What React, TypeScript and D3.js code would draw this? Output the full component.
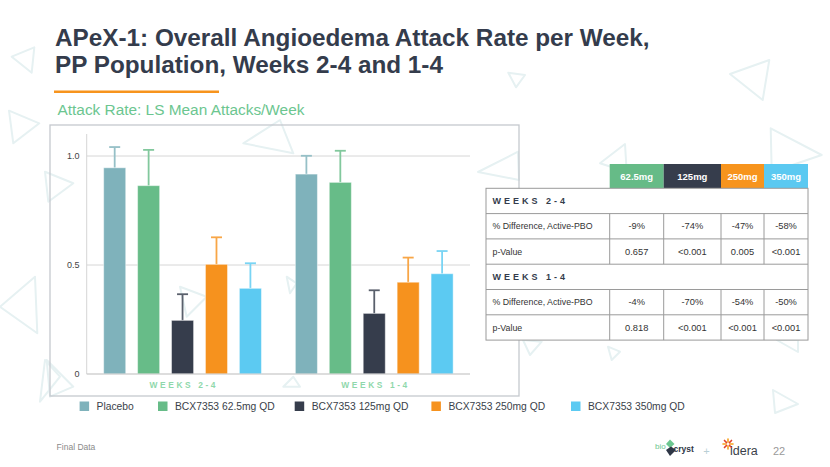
import React from "react";
import * as d3 from "d3";

// ---------- data ----------
const groups = ["WEEKS 2-4", "WEEKS 1-4"];
const series = [
  "Placebo",
  "BCX7353 62.5mg QD",
  "BCX7353 125mg QD",
  "BCX7353 250mg QD",
  "BCX7353 350mg QD",
];
const seriesColors = ["#7fb2bb", "#67bc88", "#363d4c", "#f6921e", "#5ccaf2"];
const means24 = [0.946, 0.864, 0.246, 0.503, 0.393];
const upper24 = [1.041, 1.028, 0.366, 0.627, 0.508];
const means14 = [0.917, 0.879, 0.278, 0.421, 0.46];
const upper14 = [1.001, 1.024, 0.384, 0.534, 0.564];
const yTicks = [0, 0.5, 1.0];
const yTickLabels = ["0", "0.5", "1.0"];

const doses = ["62.5mg", "125mg", "250mg", "350mg"];
const doseColors = ["#66bb87", "#363d4c", "#f7941d", "#5bc9f1"];
const pctDiff24 = ["-9%", "-74%", "-47%", "-58%"];
const pval24 = ["0.657", "<0.001", "0.005", "<0.001"];
const pctDiff14 = ["-4%", "-70%", "-54%", "-50%"];
const pval14 = ["0.818", "<0.001", "<0.001", "<0.001"];

// ---------- layout ----------
const W = 830;
const H = 467;
const FONT = "'Liberation Sans', Arial, Helvetica, sans-serif";
const plot = { left: 86.7, right: 470, top: 134, bottom: 374 };

const triangles: [number, number][][] = [
  [[11.7, 56.7], [34.3, 47.3], [31.7, 72.7]],
  [[9, 110.7], [39.3, 123.3], [13.3, 143.3]],
  [[45, 171.7], [73.3, 183.3], [48.3, 201.7]],
  [[0, 306.7], [35, 276.7], [37.3, 333.3]],
  [[46.7, 360], [73.3, 386.7], [50, 396.7]],
  [[45, 360], [60, 376.7], [40, 401.7]],
  [[508.3, 72.7], [525, 75], [516, 87.3]],
  [[730, 74], [769.3, 60], [762.7, 100]],
  [[770.7, 128.3], [821.7, 155], [771.7, 172]],
  [[600, 163.3], [625, 144], [626.7, 172]],
  [[478, 172], [518, 151.7], [519, 180]],
  [[523, 340], [541.7, 341.7], [530, 355]],
  [[608, 346.7], [620, 351.7], [611.7, 360]],
  [[773, 390], [798, 404], [775, 413]],
  [[776.7, 340], [798, 340], [798, 352]],
  [[243.3, 143.3], [280, 120], [293.3, 153.3]],
  [[180, 286.7], [206.7, 296.7], [186.7, 316.7]],
  [[286.7, 276.7], [296.7, 283.3], [290, 293.3]],
  [[283.3, 386.7], [293.3, 376.7], [300, 386.7]],
];

export default function App() {
  const y = d3.scaleLinear().domain([0, 1]).range([plot.bottom, plot.bottom - 218]);
  const x0 = d3.scaleBand<string>().domain(groups).range([plot.left, plot.left + 383.4]).padding(0);
  const x1 = d3
    .scaleBand<string>()
    .domain(series)
    .range([0, x0.bandwidth()])
    .paddingInner(0.35)
    .paddingOuter(0.5);

  const groupData = [
    { g: groups[0], means: means24, upper: upper24 },
    { g: groups[1], means: means14, upper: upper14 },
  ];

  // table geometry
  const colX = [486, 609.7, 663.7, 721, 764, 808];
  const headTop = 164;
  const tTop = 188.3;
  const rowH = 25.3;
  const tableRows: { kind: "section" | "data"; label: string; vals?: string[] }[] = [
    { kind: "section", label: "WEEKS 2-4" },
    { kind: "data", label: "% Difference, Active-PBO", vals: pctDiff24 },
    { kind: "data", label: "p-Value", vals: pval24 },
    { kind: "section", label: "WEEKS 1-4" },
    { kind: "data", label: "% Difference, Active-PBO", vals: pctDiff14 },
    { kind: "data", label: "p-Value", vals: pval14 },
  ];
  const tBottom = tTop + rowH * tableRows.length;

  const legendX = [79.6, 158, 294.7, 431.4, 571];

  const spokes = d3.range(8).map((k) => (k * Math.PI) / 4);

  return (
    <svg
      width={W}
      height={H}
      style={{ position: "absolute", left: 0, top: 0, background: "#fff" }}
      fontFamily={FONT}
    >
      <rect width={W} height={H} fill="#fff" />
      {/* decorative triangles */}
      {triangles.map((t, i) => (
        <polygon
          key={i}
          points={t.map((p) => p.join(",")).join(" ")}
          fill="none"
          stroke="#e6f1f2"
          strokeWidth={2}
          strokeLinejoin="round"
        />
      ))}

      {/* title */}
      <text x={55} y={46} fontSize={24.3} fontWeight="bold" fill="#343c4c">
        APeX-1: Overall Angioedema Attack Rate per Week,
      </text>
      <text x={55} y={73} fontSize={24.3} fontWeight="bold" fill="#343c4c">
        PP Population, Weeks 2-4 and 1-4
      </text>
      <rect x={54} y={90.5} width={165} height={2.5} fill="#f7941d" />
      <text x={57.5} y={115} fontSize={15.4} fill="#6cc690">
        Attack Rate: LS Mean Attacks/Week
      </text>

      {/* chart frame */}
      <rect x={50} y={125} width={469} height={271} fill="none" stroke="#c5c9ce" strokeWidth={1.3} />

      {/* gridlines */}
      {yTicks.map((t, i) => (
        <g key={i}>
          <line x1={plot.left} x2={plot.right} y1={y(t)} y2={y(t)} stroke="#d6d6d6" strokeWidth={1} />
          <text x={79.5} y={y(t) + 3} fontSize={9} fill="#444" textAnchor="end">
            {yTickLabels[i]}
          </text>
        </g>
      ))}
      <line x1={plot.left} x2={plot.left} y1={plot.top} y2={plot.bottom} stroke="#d6d6d6" strokeWidth={1} />

      {/* bars */}
      {groupData.map((gd) => (
        <g key={gd.g} transform={`translate(${x0(gd.g)},0)`}>
          {series.map((s, i) => {
            const bx = x1(s)!;
            const bw = x1.bandwidth();
            const errC = d3.interpolateRgb(seriesColors[i], "#ffffff")(0.18);
            const cx = bx + bw / 2;
            return (
              <g key={s}>
                <line x1={cx} x2={cx} y1={y(gd.means[i])} y2={y(gd.upper[i])} stroke={errC} strokeWidth={1.8} />
                <line x1={cx - 5.5} x2={cx + 5.5} y1={y(gd.upper[i])} y2={y(gd.upper[i])} stroke={errC} strokeWidth={1.8} />
                <rect
                  x={bx}
                  y={y(gd.means[i])}
                  width={bw}
                  height={y(0) - y(gd.means[i])}
                  fill={seriesColors[i]}
                  stroke="rgba(255,255,255,0.45)"
                  strokeWidth={1}
                />
              </g>
            );
          })}
          <text
            x={x0.bandwidth() / 2 + 1.3}
            y={388}
            fontSize={8.4}
            fontWeight="bold"
            fill="#8fd8ab"
            textAnchor="middle"
            style={{ letterSpacing: "2.6px" }}
          >
            {gd.g}
          </text>
        </g>
      ))}
      <line x1={plot.left} x2={plot.right} y1={y(0)} y2={y(0)} stroke="#cfcfcf" strokeWidth={1} />

      {/* table */}
      {doses.map((d, i) => (
        <g key={d}>
          <rect x={colX[i + 1]} y={headTop} width={colX[i + 2] - colX[i + 1]} height={tTop - headTop} fill={doseColors[i]} />
          <text
            x={(colX[i + 1] + colX[i + 2]) / 2}
            y={(headTop + tTop) / 2 + 3.4}
            fontSize={9.5}
            fontWeight="bold"
            fill="#fff"
            textAnchor="middle"
          >
            {d}
          </text>
        </g>
      ))}
      <rect x={colX[0]} y={tTop} width={colX[5] - colX[0]} height={tBottom - tTop} fill="#fff" stroke="#9a9a9a" strokeWidth={1} />
      {tableRows.map((r, ri) => {
        const ry = tTop + ri * rowH;
        return (
          <g key={ri}>
            {ri > 0 && <line x1={colX[0]} x2={colX[5]} y1={ry} y2={ry} stroke="#9a9a9a" strokeWidth={1} />}
            {r.kind === "section" ? (
              <text x={492.5} y={ry + rowH / 2 + 3.2} fontSize={9} fontWeight="bold" fill="#343c4c" style={{ letterSpacing: "3px" }}>
                {r.label}
              </text>
            ) : (
              <g>
                <text x={492.5} y={ry + rowH / 2 + 3.1} fontSize={8.8} fill="#333">
                  {r.label}
                </text>
                {r.vals!.map((v, vi) => (
                  <g key={vi}>
                    <line x1={colX[vi + 1]} x2={colX[vi + 1]} y1={ry} y2={ry + rowH} stroke="#9a9a9a" strokeWidth={1} />
                    <text
                      x={(colX[vi + 1] + colX[vi + 2]) / 2}
                      y={ry + rowH / 2 + 3.2}
                      fontSize={9.3}
                      fill="#333"
                      textAnchor="middle"
                    >
                      {v}
                    </text>
                  </g>
                ))}
              </g>
            )}
          </g>
        );
      })}

      {/* legend */}
      {series.map((s, i) => (
        <g key={s}>
          <rect x={legendX[i]} y={401.5} width={9.5} height={9.5} fill={seriesColors[i]} />
          <text x={legendX[i] + 17} y={410} fontSize={10.3} fill="#3a3f4a">
            {s}
          </text>
        </g>
      ))}

      {/* footer */}
      <text x={56.6} y={450} fontSize={8.5} fill="#8a8a8a">
        Final Data
      </text>
      {/* logos */}
      <g>
        <text x={655} y={449} fontSize={8} fill="#6cc690">bio</text>
        <polygon points="666,444 670,439.5 674.5,444 670,448" fill="#6cc690" />
        <polygon points="666,450 671,446.5 676,450 670,456" fill="#2e3646" />
        <text x={673.5} y={451.5} fontSize={8.5} fontWeight="bold" fill="#2e3646">cryst</text>
        <text x={706.5} y={455} fontSize={11} fill="#b9cfd6" textAnchor="middle">+</text>
        {spokes.map((a, k) => (
          <line
            key={k}
            x1={728 + Math.cos(a) * 2}
            y1={444 + Math.sin(a) * 2}
            x2={728 + Math.cos(a) * 5}
            y2={444 + Math.sin(a) * 5}
            stroke={k % 2 ? "#e2452b" : "#f7a21d"}
            strokeWidth={1.6}
            strokeLinecap="round"
          />
        ))}
        <text x={730} y={455} fontSize={12.5} fill="#3a3f4a">idera</text>
        <text x={773} y={455} fontSize={11} fill="#9a9a9a">22</text>
      </g>
    </svg>
  );
}
